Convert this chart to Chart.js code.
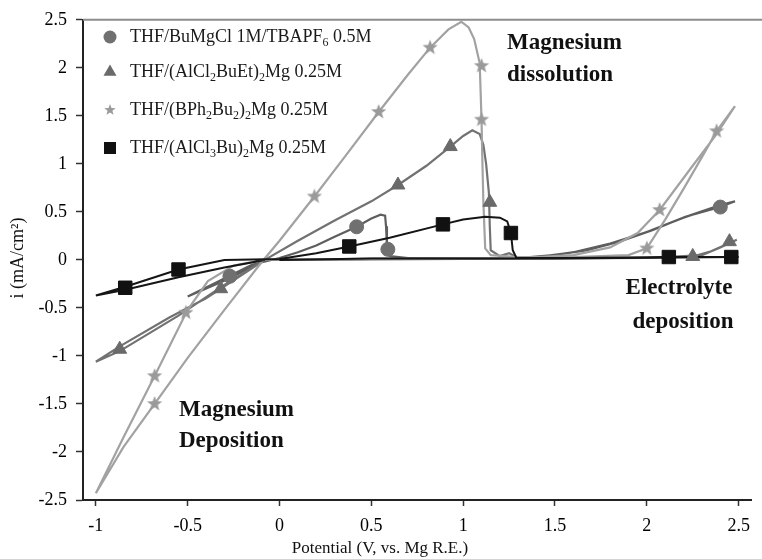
<!DOCTYPE html>
<html>
<head>
<meta charset="utf-8">
<script src="https://cdn.jsdelivr.net/npm/chart.js@4.4.0/dist/chart.umd.min.js"></script>
<style>
html, body { margin: 0; padding: 0; background: #fff; }
</style>
</head>
<body>
<canvas id="cv" width="762" height="559"></canvas>
<script>
// series names, same order everywhere below
var seriesLabels = ['THF/BuMgCl 1M/TBAPF₆ 0.5M', 'THF/(AlCl₂BuEt)₂Mg 0.25M', 'THF/(BPh₂Bu₂)₂Mg 0.25M', 'THF/(AlCl₃Bu)₂Mg 0.25M']
var xTicks = [-1, -0.5, 0, 0.5, 1, 1.5, 2, 2.5]
var yTicks = [-2.5, -2, -1.5, -1, -0.5, 0, 0.5, 1, 1.5, 2, 2.5]

// [potential V, current mA/cm2]
var buMgClCurve = [[-0.08, 0.0], [-0.27, -0.19], [-0.5, -0.38], [-0.35, -0.24], [-0.15, -0.05], [0.0, 0.02], [0.1, 0.08], [0.2, 0.15], [0.3, 0.24], [0.42, 0.345], [0.5, 0.43], [0.55, 0.47], [0.575, 0.46], [0.58, 0.35], [0.585, 0.15], [0.6, 0.04], [0.7, 0.02], [1.0, 0.02], [1.3, 0.02], [1.49, 0.05], [1.67, 0.1], [1.85, 0.19], [2.03, 0.31], [2.21, 0.45], [2.4, 0.55], [2.48, 0.61], [2.4, 0.57], [2.2, 0.44], [2.0, 0.29], [1.8, 0.17], [1.6, 0.08], [1.4, 0.03], [1.0, 0.01], [0.5, 0.01], [0.0, 0.0]]
var buMgClMarks = [[-0.27, -0.17], [0.42, 0.345], [0.59, 0.11], [2.4, 0.55]]

var alcl2Curve = [[-0.08, 0.0], [-0.3, -0.26], [-0.55, -0.58], [-0.87, -0.95], [-1.0, -1.06], [-0.87, -0.9], [-0.6, -0.6], [-0.4, -0.4], [-0.2, -0.15], [-0.08, 0.0], [0.1, 0.2], [0.3, 0.41], [0.5, 0.61], [0.645, 0.78], [0.8, 0.98], [0.93, 1.18], [1.0, 1.29], [1.05, 1.35], [1.09, 1.31], [1.11, 1.2], [1.125, 1.0], [1.14, 0.7], [1.145, 0.35], [1.15, 0.1], [1.2, 0.04], [1.25, 0.07], [1.3, 0.02], [1.6, 0.02], [2.0, 0.02], [2.25, 0.036], [2.35, 0.09], [2.49, 0.21], [2.4, 0.13], [2.3, 0.05], [2.0, 0.02], [1.0, 0.01], [0.0, 0.0]]
var alcl2Marks = [[-0.87, -0.93], [-0.32, -0.3], [0.645, 0.78], [0.93, 1.18], [1.145, 0.6], [2.25, 0.036], [2.45, 0.19]]

var bph2Curve = [[-0.08, 0.0], [-0.25, -0.06], [-0.39, -0.22], [-0.5, -0.52], [-0.68, -1.21], [-0.85, -1.85], [-1.0, -2.43], [-0.85, -1.95], [-0.68, -1.5], [-0.5, -1.02], [-0.3, -0.52], [-0.1, -0.03], [0.0, 0.2], [0.19, 0.66], [0.35, 1.06], [0.54, 1.54], [0.7, 1.93], [0.82, 2.21], [0.92, 2.4], [0.99, 2.48], [1.03, 2.42], [1.06, 2.3], [1.09, 2.05], [1.1, 1.46], [1.105, 1.0], [1.11, 0.6], [1.12, 0.12], [1.15, 0.05], [1.3, 0.03], [1.6, 0.03], [1.9, 0.05], [2.0, 0.12], [2.1, 0.42], [2.2, 0.74], [2.3, 1.07], [2.38, 1.34], [2.48, 1.6], [2.38, 1.31], [2.25, 0.98], [2.07, 0.52], [1.95, 0.28], [1.8, 0.13], [1.6, 0.05], [1.3, 0.02], [0.5, 0.01], [-0.08, 0.0]]
var bph2Marks = [[-0.68, -1.21], [-0.68, -1.5], [-0.51, -0.55], [0.19, 0.66], [0.54, 1.54], [0.82, 2.21], [1.1, 2.02], [1.1, 1.46], [2.0, 0.12], [2.07, 0.52], [2.38, 1.34]]

var alcl3Curve = [[-0.08, 0.0], [-0.3, -0.08], [-0.55, -0.18], [-0.84, -0.31], [-1.0, -0.37], [-0.84, -0.28], [-0.55, -0.1], [-0.3, 0.0], [0.0, 0.01], [0.2, 0.07], [0.38, 0.14], [0.6, 0.23], [0.89, 0.37], [1.0, 0.42], [1.12, 0.45], [1.2, 0.44], [1.24, 0.4], [1.26, 0.28], [1.27, 0.1], [1.29, 0.02], [1.6, 0.02], [2.12, 0.03], [2.5, 0.03], [1.5, 0.015], [0.5, 0.015], [0.0, 0.0]]
var alcl3Marks = [[-0.84, -0.29], [-0.55, -0.1], [0.38, 0.14], [0.89, 0.37], [1.26, 0.28], [2.12, 0.03], [2.46, 0.03]]

var curves = [buMgClCurve, alcl2Curve, bph2Curve, alcl3Curve]
var marks = [buMgClMarks, alcl2Marks, bph2Marks, alcl3Marks]

var lineColors = ['#5e5e5e', '#727272', '#a2a2a2', '#151515']
var markColors = ['#707070', '#6a6a6a', '#9a9a9a', '#111111']
var serif = "'Liberation Serif', 'DejaVu Serif', serif"
var subDigits = '₀₁₂₃₄₅₆₇₈₉'

function starImage(r, color) {
    var c = document.createElement('canvas')
    c.width = c.height = r * 2 + 2
    var g = c.getContext('2d')
    g.fillStyle = color
    g.beginPath()
    for (var i = 0; i < 10; i++) {
        var rad = i % 2 ? r * 0.42 : r
        var a = -Math.PI / 2 + i * Math.PI / 5
        var px = r + 1 + rad * Math.cos(a), py = r + 1 + rad * Math.sin(a)
        if (i) g.lineTo(px, py); else g.moveTo(px, py)
    }
    g.closePath()
    g.fill()
    return c
}

var pointStyles = ['circle', 'triangle', starImage(8, markColors[2]), 'rect']
var pointSizes = [7, 8, 8, 9.5]
var legendStyles = ['circle', 'triangle', starImage(6, markColors[2]), 'rect']
var legendSizes = [6.5, 7.5, 6, 8.5]

function toXY(list) {
    return list.map(function (p) { return { x: p[0], y: p[1] } })
}

var datasets = []
for (let i = 0; i < curves.length; i++) {
    datasets.push({
        label: seriesLabels[i] + ' curve',
        data: toXY(curves[i]),
        showLine: true,
        borderColor: lineColors[i],
        borderWidth: i == 3 ? 2 : 2.2,
        pointRadius: 0,
        order: i == 3 ? 5 : 10 - i
    })
}
for (let i = 0; i < marks.length; i++) {
    datasets.push({
        label: seriesLabels[i],
        data: toXY(marks[i]),
        showLine: false,
        pointStyle: pointStyles[i],
        pointRadius: pointSizes[i],
        backgroundColor: markColors[i],
        borderColor: markColors[i],
        borderWidth: 1,
        order: 0
    })
}

// writes a label, turning the subscript digits into small lowered digits
function fillWithSubs(ctx, text, x, y, size) {
    for (let ch of text) {
        var k = subDigits.indexOf(ch)
        if (k >= 0) {
            ctx.font = Math.round(size * 0.68) + 'px ' + serif
            ctx.fillText(String(k), x, y + size * 0.3)
            x += ctx.measureText(String(k)).width
        } else {
            ctx.font = size + 'px ' + serif
            ctx.fillText(ch, x, y)
            x += ctx.measureText(ch).width
        }
    }
}

var overlay = {
    id: 'overlay',
    afterDraw: function (chart) {
        var ctx = chart.ctx, a = chart.chartArea
        ctx.save()
        // top frame line
        ctx.strokeStyle = '#8c8c8c'
        ctx.lineWidth = 2
        ctx.beginPath()
        ctx.moveTo(a.left, a.top)
        ctx.lineTo(762, a.top)
        ctx.stroke()

        // legend inside plot
        var rows = [37, 72, 110, 148]
        ctx.textBaseline = 'middle'
        ctx.textAlign = 'left'
        for (let i = 0; i < seriesLabels.length; i++) {
            drawMark(ctx, legendStyles[i], legendSizes[i], 110, rows[i], markColors[i])
            ctx.fillStyle = '#1a1a1a'
            fillWithSubs(ctx, seriesLabels[i], 130, rows[i], 18)
        }

        // annotations
        ctx.fillStyle = '#111'
        ctx.font = 'bold 23px ' + serif
        ctx.fillText('Magnesium', 507, 43)
        ctx.fillText('dissolution', 507, 75)
        ctx.fillText('Magnesium', 179, 410)
        ctx.fillText('Deposition', 179, 441)
        ctx.textAlign = 'center'
        ctx.fillText('Electrolyte', 679, 288)
        ctx.fillText('deposition', 683, 322)

        // axis titles
        ctx.font = '17px ' + serif
        ctx.fillText('Potential (V, vs. Mg R.E.)', 380, 549)
        ctx.translate(18, 258)
        ctx.rotate(-Math.PI / 2)
        ctx.font = '18px ' + serif
        ctx.fillText('i (mA/cm²)', 0, 0)
        ctx.restore()
    }
}

function drawMark(ctx, style, r, x, y, color) {
    if (typeof style != 'string') {
        ctx.drawImage(style, x - style.width / 2, y - style.height / 2)
        return
    }
    ctx.fillStyle = color
    ctx.beginPath()
    if (style == 'circle') {
        ctx.arc(x, y, r, 0, Math.PI * 2)
    } else if (style == 'triangle') {
        ctx.moveTo(x, y - r)
        ctx.lineTo(x + r * 0.866, y + r * 0.5)
        ctx.lineTo(x - r * 0.866, y + r * 0.5)
        ctx.closePath()
    } else {
        var s = r * Math.SQRT1_2
        ctx.rect(x - s, y - s, s * 2, s * 2)
    }
    ctx.fill()
}

var tickFont = { family: serif, size: 18 }

new Chart(document.getElementById('cv'), {
    type: 'scatter',
    data: { datasets: datasets },
    options: {
        responsive: false,
        animation: false,
        devicePixelRatio: 1,
        layout: { padding: { top: 17, right: 2, left: 0, bottom: 0 } },
        plugins: { legend: { display: false }, tooltip: { enabled: false } },
        scales: {
            x: {
                type: 'linear',
                min: -1.07,
                max: 2.57,
                afterBuildTicks: function (s) { s.ticks = xTicks.map(function (v) { return { value: v } }) },
                afterFit: function (s) { s.height = 59 },
                grid: { display: true, drawOnChartArea: false, drawTicks: true, tickLength: 6, tickColor: '#333', tickWidth: 1.5 },
                border: { display: true, color: '#222', width: 2 },
                ticks: { autoSkip: false, maxRotation: 0, padding: 9, color: '#000', font: tickFont, callback: function (v) { return String(v) } }
            },
            y: {
                type: 'linear',
                min: -2.5,
                max: 2.5,
                afterBuildTicks: function (s) { s.ticks = yTicks.map(function (v) { return { value: v } }) },
                afterFit: function (s) { s.width = 83 },
                grid: { display: true, drawOnChartArea: false, drawTicks: true, tickLength: 7, tickColor: '#333', tickWidth: 1.5 },
                border: { display: true, color: '#222', width: 2 },
                ticks: { autoSkip: false, padding: 9, color: '#000', font: tickFont, callback: function (v) { return String(v) } }
            }
        }
    },
    plugins: [overlay]
})
</script>
</body>
</html>
